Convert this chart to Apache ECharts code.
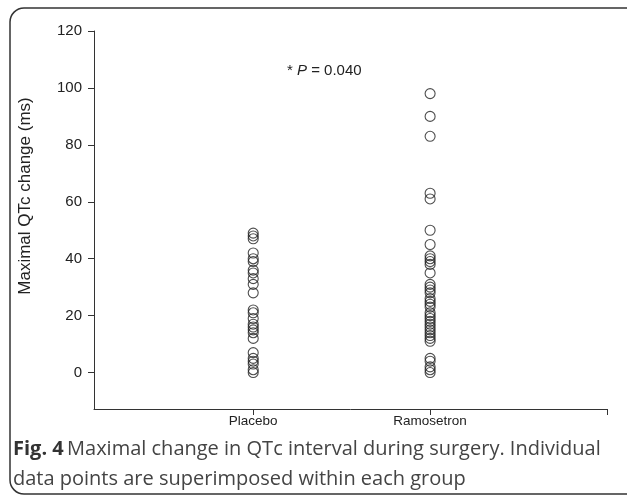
<!DOCTYPE html>
<html>
<head>
<meta charset="utf-8">
<script src="https://cdn.jsdelivr.net/npm/echarts@6/dist/echarts.min.js"></script>
<style>
html,body{margin:0;padding:0;background:#fff;}
#chart{width:627px;height:500px;}
</style>
</head>
<body>
<div id="chart"></div>
<script>
const categories = ['Placebo', 'Ramosetron'];
const placeboValues = [49, 48, 47, 42, 40, 39, 36, 35, 33, 31, 28, 22, 21, 19, 17, 16, 15, 14, 12, 7, 5, 4, 3, 1, 0];
const ramosetronValues = [98, 90, 83, 63, 61, 50, 45, 41, 40, 39, 38, 35, 31, 30, 29, 28, 26, 25, 24, 23, 21, 20, 19, 18, 17, 16, 15, 14, 13, 12, 11, 5, 4, 2, 1, 0];
const yTicks = [0, 20, 40, 60, 80, 100, 120];
const yTitle = 'Maximal QTc change (ms)';
const annotation = { prefix: '* ', p: 'P', suffix: ' = 0.040' };

const groups = [placeboValues, ramosetronValues];
const chart = echarts.init(document.getElementById('chart'));
const axisColor = '#333';
const font = 'Liberation Sans, Arial, sans-serif';

chart.setOption({
  animation: false,
  grid: { left: 94, right: 20, top: 31, bottom: 91 },
  xAxis: {
    type: 'value', min: 0.1, max: 3,
    axisLine: { onZero: false, lineStyle: { color: axisColor, width: 1 } },
    axisTick: { customValues: [1, 2, 3], length: 6, lineStyle: { color: axisColor } },
    axisLabel: {
      customValues: [1, 2], margin: 5, color: '#222', fontSize: 13.5, fontFamily: font,
      formatter: v => categories[Math.round(v) - 1] || ''
    },
    splitLine: { show: false }
  },
  yAxis: {
    type: 'value', min: -12.8, max: 120,
    axisLine: { show: true, lineStyle: { color: axisColor, width: 1 } },
    axisTick: { show: true, customValues: yTicks, length: 6, lineStyle: { color: axisColor } },
    axisLabel: { customValues: yTicks, margin: 12, color: '#222', fontSize: 15, fontFamily: font },
    splitLine: { show: false }
  },
  series: groups.map((vals, gi) => ({
    type: 'scatter',
    name: categories[gi],
    symbol: 'circle',
    symbolSize: 10,
    itemStyle: { color: 'rgba(0,0,0,0)', borderColor: '#222', borderWidth: 1.1 },
    data: vals.map(v => [gi + 1, v])
  })),
  graphic: [
    {
      type: 'rect', silent: true,
      shape: { x: 10, y: 8, width: 700, height: 486, r: 14 },
      style: { fill: 'none', stroke: '#333', lineWidth: 1.5 }
    },
    {
      type: 'text', silent: true, x: 25, y: 196, rotation: Math.PI / 2,
      style: { text: yTitle, fontSize: 17, fill: '#222', fontFamily: font, align: 'center', verticalAlign: 'middle' }
    },
    {
      type: 'text', left: 287, top: 63,
      style: {
        text: '{a|' + annotation.prefix + '}{i|' + annotation.p + '}{a|' + annotation.suffix + '}',
        rich: {
          a: { fontSize: 15, fill: '#222', fontFamily: font },
          i: { fontSize: 15, fill: '#222', fontStyle: 'italic', fontFamily: font }
        }
      }
    },
    {
      type: 'text', left: 13, top: 439,
      style: {
        text: '{b|Fig. 4} {n|Maximal change in QTc interval during surgery. Individual}\n{n|data points are superimposed within each group}',
        rich: {
          b: { fontSize: 20, fontWeight: 'bold', fill: '#333', fontFamily: 'Open Sans', lineHeight: 30 },
          n: { fontSize: 20, fill: '#444', fontFamily: 'Open Sans', lineHeight: 30 }
        }
      }
    }
  ]
});
</script>
</body>
</html>
